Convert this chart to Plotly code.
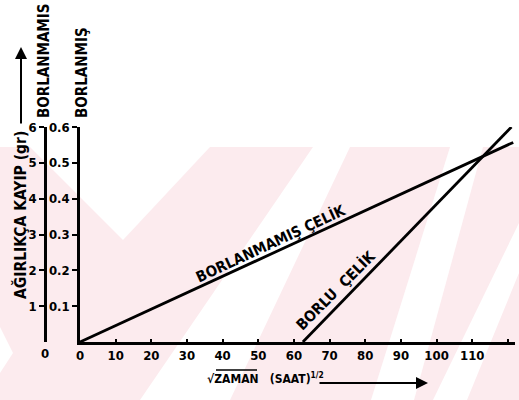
import plotly.graph_objects as go

# ---- data ----
time_unborided = [0, 121.5]
loss_unborided = [0, 5.57]          # read on the outer (0-6) axis
time_borided = [62.5, 121]
loss_borided = [0, 0.60]            # read on the inner (0-0.6) axis

x_ticks = [0, 10, 20, 30, 40, 50, 60, 70, 80, 90, 100, 110, 120]
x_labels = [str(v) for v in x_ticks]
inner_ticks = [0.1, 0.2, 0.3, 0.4, 0.5, 0.6]
inner_labels = ["0.1", "0.2", "0.3", "0.4", "0.5", "0.6"]
outer_ticks = [1, 2, 3, 4, 5, 6]
outer_labels = ["1", "2", "3", "4", "5", "6"]

label_unborided = "BORLANMAMIŞ ÇELİK"
label_borided = "BORLU  ÇELİK"
title_outer = "BORLANMAMIS"
title_inner = "BORLANMIŞ"
y_title = "AĞIRLIKÇA KAYIP (gr)"
x_title = "√ZAMAN&nbsp;&nbsp;&nbsp;(SAAT)<sup>1/2</sup>"

# ---- layout geometry ----
W, H = 519, 400
L, R, T, B = 30, 4, 127, 58
PW, PH = W - L - R, H - T - B
FONT = "DejaVu Sans Condensed, Liberation Sans Narrow, Arial Narrow, sans-serif"


def px(xp):
    return (xp - L) / PW


def py(yp):
    return (H - B - yp) / PH


x_dom0 = px(80)

fig = go.Figure()
fig.add_trace(go.Scatter(x=time_unborided, y=loss_unborided, mode="lines",
                         line=dict(color="black", width=2.8), yaxis="y2",
                         showlegend=False, hoverinfo="skip"))
fig.add_trace(go.Scatter(x=time_borided, y=loss_borided, mode="lines",
                         line=dict(color="black", width=2.8), yaxis="y",
                         showlegend=False, hoverinfo="skip"))

# ---- watermark (light pink chevrons/stripes) ----
pink = "#fcebee"
shapes = [dict(type="rect", xref="paper", yref="paper", x0=px(0), x1=px(W),
               y0=py(147), y1=py(H), fillcolor=pink, line=dict(width=0), layer="below")]
white_polys = [
    [(30, 147), (210, 147), (123, 240)],
    [(313, 147), (350, 147), (230, 400), (140, 400)],
    [(450, 147), (483, 147), (414, 400), (371, 400)],
    [(519, 223), (519, 273), (467, 400), (433, 400)],
    [(0, 327), (13, 353), (0, 373)],
]
for poly in white_polys:
    path = "M " + " L ".join(f"{px(a):.4f},{py(b):.4f}" for a, b in poly) + " Z"
    shapes.append(dict(type="path", xref="paper", yref="paper", path=path,
                       fillcolor="white", line=dict(width=0), layer="below"))
# overline of the square-root sign
shapes.append(dict(type="line", xref="paper", yref="paper", x0=px(216), x1=px(257),
                   y0=py(370), y1=py(370), line=dict(color="black", width=1.5)))

C = dict(xanchor="center", yanchor="middle", showarrow=False)
ann = []
ann.append(dict(xref="paper", yref="paper", x=px(44), y=py(61), text=title_outer,
                textangle=-90, font=dict(size=15), **C))
ann.append(dict(xref="paper", yref="paper", x=px(82), y=py(73), text=title_inner,
                textangle=-90, font=dict(size=15), **C))
ann.append(dict(xref="paper", yref="paper", x=px(20), y=py(215), text=y_title,
                textangle=-90, font=dict(size=15.5), **C))
ann.append(dict(xref="paper", yref="paper", x=px(21), y=py(47), text="",
                showarrow=True, ax=0, ay=78, arrowhead=2, arrowsize=1.2,
                arrowwidth=2, arrowcolor="black"))
ann.append(dict(xref="paper", yref="paper", x=px(45), y=py(353), text="0",
                font=dict(size=13), **C))
ann.append(dict(xref="paper", yref="paper", x=px(205), y=py(378), text=x_title,
                xanchor="left", yanchor="middle", showarrow=False, font=dict(size=12)))
ann.append(dict(xref="paper", yref="paper", x=px(428), y=py(383), text="",
                showarrow=True, ax=-110, ay=0, arrowhead=2, arrowsize=1.2,
                arrowwidth=2, arrowcolor="black"))
ann.append(dict(xref="x", yref="y", x=53.3, y=0.276, text=label_unborided,
                textangle=-25, font=dict(size=15), **C))
ann.append(dict(xref="x", yref="y", x=71.5, y=0.145, text=label_borided,
                textangle=-45, font=dict(size=15), **C))

axis_common = dict(showgrid=False, zeroline=False, showline=True, linecolor="black",
                   linewidth=2.5, tickcolor="black", tickwidth=2,
                   tickfont=dict(size=13, color="black"))

fig.update_layout(
    width=W, height=H,
    margin=dict(l=L, r=R, t=T, b=B, pad=0),
    paper_bgcolor="rgba(0,0,0,0)", plot_bgcolor="rgba(0,0,0,0)",
    font=dict(family=FONT, size=13, color="black", weight="bold"),
    xaxis=dict(domain=[x_dom0, 1], range=[0, 122], tickvals=x_ticks, ticktext=x_labels,
               ticks="inside", ticklen=3, **axis_common),
    yaxis=dict(range=[0, 0.6], tickvals=inner_ticks, ticktext=inner_labels,
               ticks="outside", ticklen=5, anchor="x", **axis_common),
    yaxis2=dict(range=[0, 6], tickvals=outer_ticks, ticktext=outer_labels,
                overlaying="y", anchor="free", position=px(45), side="left",
                ticks="outside", ticklen=5, **axis_common),
    shapes=shapes,
    annotations=ann,
)

fig.write_html("out.html")
